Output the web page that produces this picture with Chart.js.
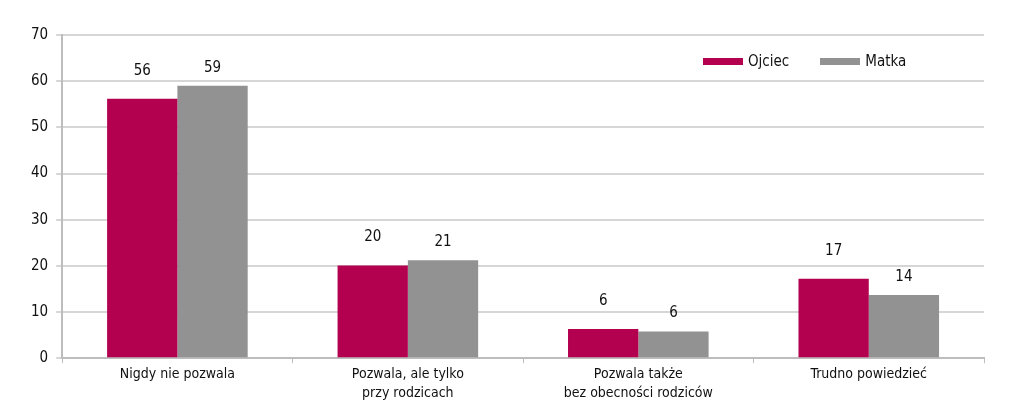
<!DOCTYPE html>
<html>
<head>
<meta charset="utf-8">
<script src="https://cdn.jsdelivr.net/npm/chart.js@4"></script>
<style>
  html, body { margin: 0; padding: 0; background: #fff; }
  #wrap { position: relative; width: 1024px; height: 416px; }
  #legend {
    position: absolute; left: 703px; top: 52px;
    font-family: "Liberation Sans Narrow", "DejaVu Sans Condensed", sans-serif;
    font-size: 15px; color: #111; display: flex; align-items: center;
  }
  #legend span.box { display: inline-block; width: 40px; height: 7px; margin-right: 5px; }
  #legend span.item { display: inline-flex; align-items: center; margin-right: 31px; }
</style>
</head>
<body>
<div id="wrap">
  <canvas id="chart" width="1024" height="416"></canvas>
  <div id="legend"></div>
</div>
<script>
// data
const categories = [
  "Nigdy nie pozwala",
  ["Pozwala, ale tylko", "przy rodzicach"],
  ["Pozwala także", "bez obecności rodziców"],
  "Trudno powiedzieć"
];
const ojciec = [56.2, 20.1, 6.3, 17.2];
const matka = [59.0, 21.2, 5.8, 13.7];
const yTicks = [0, 10, 20, 30, 40, 50, 60, 70];

const FONT = "'Liberation Sans Narrow', 'DejaVu Sans Condensed', sans-serif";
const colors = { ojciec: "#b3004f", matka: "#929292" };

// value labels above bars
const valueLabels = {
  id: "valueLabels",
  afterDatasetsDraw(chart) {
    const ctx = chart.ctx;
    ctx.save();
    ctx.font = "15px " + FONT;
    ctx.fillStyle = "#111";
    ctx.textAlign = "center";
    ctx.textBaseline = "middle";
    chart.data.datasets.forEach((ds, i) => {
      const meta = chart.getDatasetMeta(i);
      const lift = i === 0 ? 28 : 18;
      meta.data.forEach((bar, j) => {
        ctx.fillText(Math.round(ds.data[j]), bar.x, bar.y - lift);
      });
    });
    ctx.restore();
  }
};

const chart = new Chart(document.getElementById("chart"), {
  type: "bar",
  data: {
    labels: categories,
    datasets: [
      { label: "Ojciec", data: ojciec, backgroundColor: colors.ojciec },
      { label: "Matka", data: matka, backgroundColor: colors.matka }
    ]
  },
  options: {
    responsive: false,
    animation: false,
    layout: { padding: { left: 23, right: 40, top: 35, bottom: 11 } },
    plugins: { legend: { display: false }, tooltip: { enabled: false } },
    datasets: { bar: { categoryPercentage: 0.61, barPercentage: 1 } },
    scales: {
      x: {
        grid: {
          offset: true, drawOnChartArea: false, drawTicks: true,
          tickLength: 5, color: "#bdbdbd"
        },
        border: { color: "#bdbdbd", width: 2 },
        ticks: {
          color: "#111", font: { family: FONT, size: 14, lineHeight: 1.35 },
          padding: 2, maxRotation: 0
        }
      },
      y: {
        min: 0, max: 70,
        afterBuildTicks(axis) { axis.ticks = yTicks.map(v => ({ value: v })); },
        grid: { color: "#d6d6d6", lineWidth: 2, tickLength: 6 },
        border: { color: "#bdbdbd", width: 2 },
        ticks: { color: "#111", font: { family: FONT, size: 15 }, padding: 8 }
      }
    }
  },
  plugins: [valueLabels]
});

const legend = document.getElementById("legend");
chart.data.datasets.forEach(ds => {
  const item = document.createElement("span");
  item.className = "item";
  const box = document.createElement("span");
  box.className = "box";
  box.style.background = ds.backgroundColor;
  item.appendChild(box);
  item.appendChild(document.createTextNode(ds.label));
  legend.appendChild(item);
});
</script>
</body>
</html>
